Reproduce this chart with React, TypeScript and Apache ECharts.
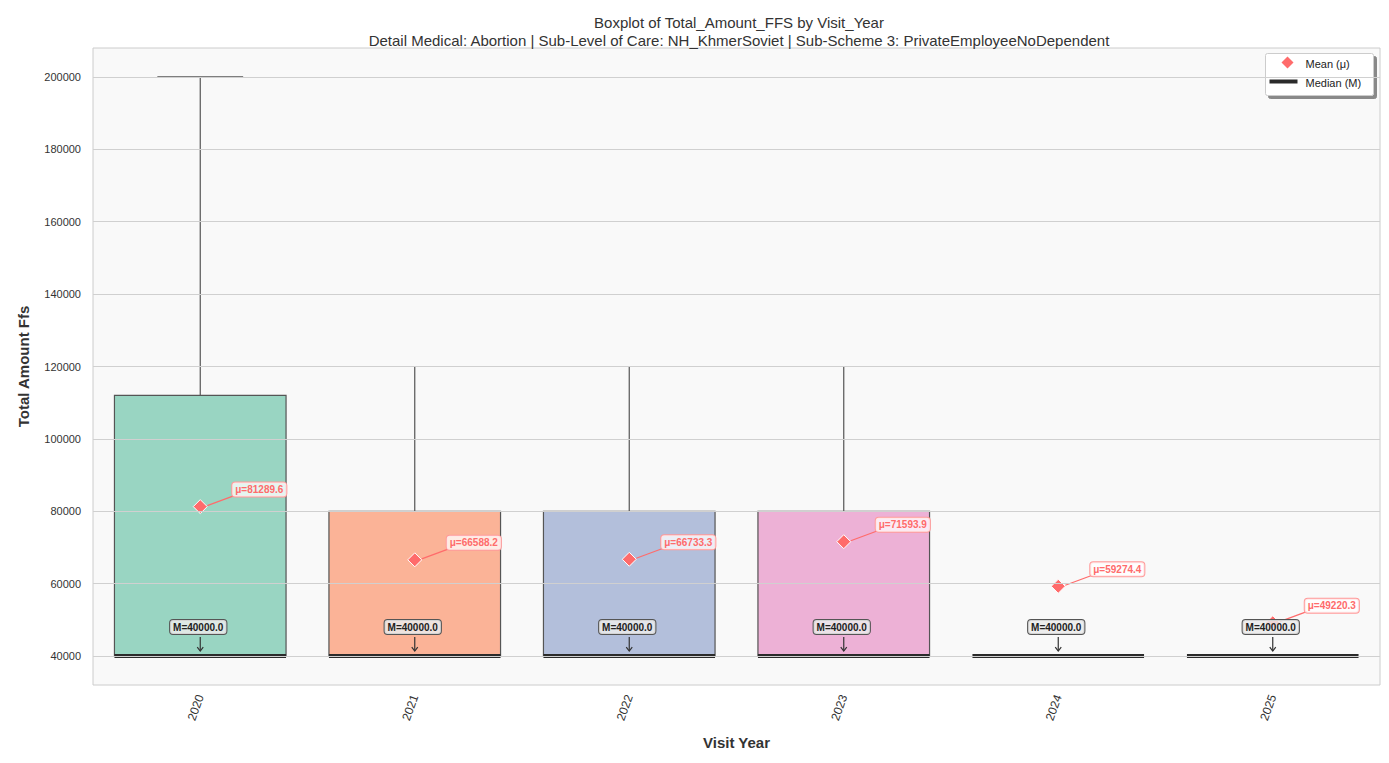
import React, { useEffect, useRef } from "react";
import * as echarts from "echarts";

const years = ["2020", "2021", "2022", "2023", "2024", "2025"];
const q1 = [40000, 40000, 40000, 40000, 40000, 40000];
const medians = [40000, 40000, 40000, 40000, 40000, 40000];
const q3 = [112000, 80000, 80000, 80000, 40000, 40000];
const whiskerLow = [40000, 40000, 40000, 40000, 40000, 40000];
const whiskerHigh = [200000, 120000, 120000, 120000, 40000, 40000];
const means = [81289.6, 66588.2, 66733.3, 71593.9, 59274.4, 49220.3];
const boxColors = ["#66c2a5", "#fc8d62", "#8da0cb", "#e78ac3", "#a6d854", "#ffd92f"];
const yTicks = [40000, 60000, 80000, 100000, 120000, 140000, 160000, 180000, 200000];

const FONT = "'Liberation Sans', Arial, sans-serif";

export default function App() {
  const ref = useRef<HTMLDivElement>(null);
  useEffect(() => {
    const chart = echarts.init(ref.current!, null, { renderer: "svg" });
    const data = years.map((y, i) => [i, q1[i], medians[i], q3[i], whiskerLow[i], whiskerHigh[i], means[i]]);
    const renderItem = (params: any, api: any) => {
      const i = api.value(0);
      const band = api.size([1, 0])[0];
      const hw = band * 0.4;
      const cw = band * 0.2;
      const [x, yq1] = api.coord([i, api.value(1)]);
      const ymed = api.coord([i, api.value(2)])[1];
      const yq3 = api.coord([i, api.value(3)])[1];
      const ylo = api.coord([i, api.value(4)])[1];
      const yhi = api.coord([i, api.value(5)])[1];
      const ymean = api.coord([i, api.value(6)])[1];
      const lineStyle = { stroke: "#555", lineWidth: 1.2, fill: null };
      const children: any[] = [];
      if (yq1 - yq3 > 1) {
        children.push({ type: "rect", shape: { x: x - hw, y: yq3, width: 2 * hw, height: yq1 - yq3 }, style: { fill: boxColors[i], opacity: 0.65 } });
        children.push({ type: "rect", shape: { x: x - hw, y: yq3, width: 2 * hw, height: yq1 - yq3 }, style: { fill: null, stroke: "#555", lineWidth: 1.2 } });
      }
      if (yq3 - yhi > 1) {
        children.push({ type: "line", shape: { x1: x, y1: yq3, x2: x, y2: yhi }, style: lineStyle });
        children.push({ type: "line", shape: { x1: x - cw, y1: yhi, x2: x + cw, y2: yhi }, style: lineStyle });
      }
      if (ylo - yq1 > 1) {
        children.push({ type: "line", shape: { x1: x, y1: yq1, x2: x, y2: ylo }, style: lineStyle });
        children.push({ type: "line", shape: { x1: x - cw, y1: ylo, x2: x + cw, y2: ylo }, style: lineStyle });
      }
      children.push({ type: "rect", shape: { x: x - hw, y: ymed - 2, width: 2 * hw, height: 4 }, style: { fill: "#2b2b2b" } });
      const d = 7;
      children.push({ type: "polygon", shape: { points: [[x, ymean - d], [x + d, ymean], [x, ymean + d], [x - d, ymean]] }, style: { fill: "#ff6b6b", stroke: "#fff", lineWidth: 1 } });
      const lx = x + 32, ly = ymean - 17;
      children.push({ type: "line", shape: { x1: lx + 2, y1: ly + 6, x2: x + 7, y2: ymean - 1 }, style: { stroke: "#ff6b6b", lineWidth: 1.2, fill: null } });
      children.push({ type: "text", style: { text: "μ=" + api.value(6).toFixed(1), x: lx, y: ly, align: "left", verticalAlign: "middle", fill: "#ff6b6b", font: "bold 10px " + FONT, backgroundColor: "rgba(255,255,255,0.75)", borderColor: "#ff9a9a", borderWidth: 1, borderRadius: 3, padding: [2, 3] } });
      children.push({ type: "line", shape: { x1: x, y1: ymed - 19, x2: x, y2: ymed - 5 }, style: { stroke: "#333", lineWidth: 1.2, fill: null } });
      children.push({ type: "polyline", shape: { points: [[x - 3, ymed - 9], [x, ymed - 5], [x + 3, ymed - 9]] }, style: { stroke: "#333", lineWidth: 1.2, fill: null } });
      children.push({ type: "text", style: { text: "M=" + api.value(2).toFixed(1), x: x - 2, y: ymed - 29, align: "center", verticalAlign: "middle", fill: "#222", font: "bold 10px " + FONT, backgroundColor: "rgba(235,235,235,0.85)", borderColor: "#555", borderWidth: 1, borderRadius: 3, padding: [2, 3] } });
      return { type: "group", children };
    };
    chart.setOption({
      animation: false,
      backgroundColor: "#fff",
      title: {
        text: "Boxplot of Total_Amount_FFS by Visit_Year\nDetail Medical: Abortion | Sub-Level of Care: NH_KhmerSoviet | Sub-Scheme 3: PrivateEmployeeNoDependent",
        left: 726, top: 0, textAlign: "center",
        textStyle: { fontSize: 15, fontWeight: "normal", color: "#333", lineHeight: 18, fontFamily: FONT },
      },
      grid: { left: 80, right: 1, top: 40, bottom: 66, show: true, backgroundColor: "#f9f9f9", borderColor: "#ccc", borderWidth: 1 },
      xAxis: {
        type: "category", data: years,
        name: "Visit Year", nameLocation: "middle", nameGap: 50,
        nameTextStyle: { fontSize: 15, fontWeight: "bold", color: "#333", fontFamily: FONT },
        axisLine: { show: false }, axisTick: { show: false },
        axisLabel: { rotate: 70, color: "#333", fontSize: 12, fontFamily: FONT, margin: 10 },
        splitLine: { show: false },
      },
      yAxis: {
        type: "value", min: 32000, max: 208000, interval: 4000,
        name: "Total Amount Ffs", nameLocation: "middle", nameGap: 62,
        nameTextStyle: { fontSize: 15, fontWeight: "bold", color: "#333", fontFamily: FONT },
        axisLine: { show: false }, axisTick: { show: false }, splitLine: { show: false },
        axisLabel: { color: "#333", fontSize: 11, fontFamily: FONT, margin: 12, formatter: (v: number) => (yTicks.includes(v) ? String(v) : "") },
      },
      series: [
        {
          type: "line", data: [], z: 1, silent: true,
          markLine: { silent: true, symbol: "none", label: { show: false }, lineStyle: { color: "#d0d0d0", width: 1, type: "solid" }, data: yTicks.map((v) => ({ yAxis: v })) },
        },
        { type: "custom", renderItem, data, z: 3, encode: { x: 0, y: [1, 5] } },
      ],
      graphic: [
        {
          type: "group", right: 7, top: 45,
          children: [
            { type: "rect", shape: { x: 0, y: 0, width: 108, height: 42, r: 2 }, style: { fill: "#fff", stroke: "#ccc", lineWidth: 1, shadowColor: "rgba(0,0,0,0.45)", shadowOffsetX: 3, shadowOffsetY: 3, shadowBlur: 0 } },
            { type: "polygon", shape: { points: [[22, 3], [28, 9], [22, 15], [16, 9]] }, style: { fill: "#ff6b6b" } },
            { type: "text", style: { text: "Mean (μ)", x: 40, y: 10, verticalAlign: "middle", fill: "#222", font: "11px " + FONT } },
            { type: "rect", shape: { x: 4, y: 26, width: 28, height: 4 }, style: { fill: "#2b2b2b" } },
            { type: "text", style: { text: "Median (M)", x: 40, y: 29, verticalAlign: "middle", fill: "#222", font: "11px " + FONT } },
          ],
        },
      ],
    });
    return () => chart.dispose();
  }, []);
  return <div ref={ref} style={{ width: 1373, height: 747 }} />;
}
